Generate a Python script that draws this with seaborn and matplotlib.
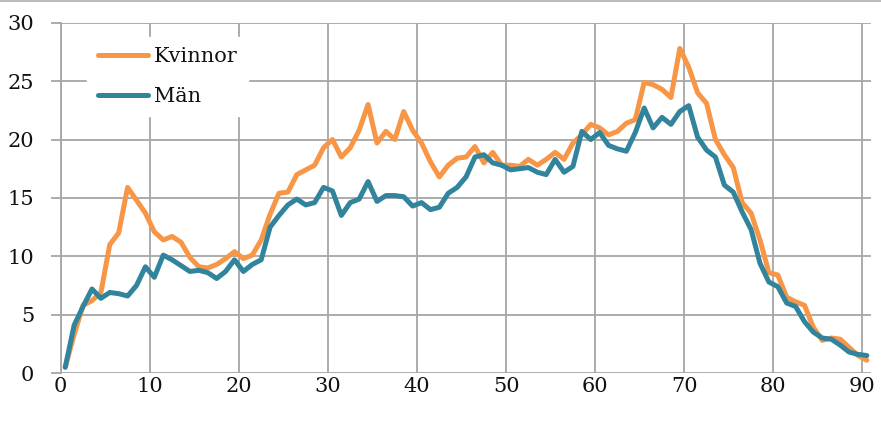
import numpy as np
import pandas as pd
import seaborn as sns
import matplotlib.pyplot as plt

# ages 0-90
ages = np.arange(0, 91)

kvinnor = [0.5, 3.3, 5.8, 6.2, 6.9, 11.0, 12.0, 15.9, 14.8, 13.7,
           12.1, 11.4, 11.7, 11.2, 9.9, 9.1, 9.0, 9.3, 9.8, 10.4,
           9.8, 10.1, 11.4, 13.6, 15.4, 15.5, 17.0, 17.4, 17.8, 19.3,
           20.0, 18.5, 19.3, 20.8, 23.0, 19.7, 20.7, 20.0, 22.4, 20.8,
           19.7, 18.1, 16.8, 17.8, 18.4, 18.5, 19.4, 18.0, 18.9, 17.8,
           17.8, 17.7, 18.3, 17.8, 18.3, 18.9, 18.3, 19.7, 20.4, 21.3,
           21.0, 20.4, 20.7, 21.4, 21.7, 24.9, 24.7, 24.3, 23.6, 27.8,
           26.2, 24.0, 23.1, 20.0, 18.7, 17.6, 14.6, 13.7, 11.4, 8.6,
           8.4, 6.5, 6.1, 5.8, 3.9, 2.8, 3.0, 2.9, 2.2, 1.5,
           1.1]

man = [0.5, 4.1, 5.7, 7.2, 6.4, 6.9, 6.8, 6.6, 7.5, 9.1,
       8.2, 10.1, 9.7, 9.2, 8.7, 8.8, 8.6, 8.1, 8.7, 9.7,
       8.7, 9.3, 9.7, 12.5, 13.5, 14.4, 14.9, 14.4, 14.6, 15.9,
       15.6, 13.5, 14.6, 14.9, 16.4, 14.7, 15.2, 15.2, 15.1, 14.3,
       14.6, 14.0, 14.2, 15.4, 15.9, 16.8, 18.5, 18.7, 18.0, 17.8,
       17.4, 17.5, 17.6, 17.2, 17.0, 18.3, 17.2, 17.7, 20.7, 20.0,
       20.6, 19.5, 19.2, 19.0, 20.6, 22.7, 21.0, 21.9, 21.3, 22.4,
       22.9, 20.2, 19.1, 18.5, 16.1, 15.5, 13.8, 12.3, 9.4, 7.8,
       7.4, 6.0, 5.7, 4.4, 3.5, 3.0, 2.9, 2.4, 1.8, 1.6,
       1.5]

df = pd.DataFrame({
    'x': np.concatenate([ages + 0.5, ages + 0.5]),
    'varde': kvinnor + man,
    'grupp': ['Kvinnor'] * len(ages) + ['Män'] * len(ages),
})

sns.set_style('white')
plt.rcParams['font.family'] = ['DejaVu Serif']
plt.rcParams['text.color'] = '#111111'

fig = plt.figure(figsize=(8.81, 4.22), dpi=100)
ax = fig.add_axes([0.069, 0.116, 0.92, 0.83])

sns.lineplot(data=df, x='x', y='varde', hue='grupp',
             palette={'Kvinnor': '#F79646', 'Män': '#31849B'},
             linewidth=3.6, ax=ax, legend=True, zorder=3)

ax.set_xlim(0, 91)
ax.set_ylim(0, 30)
ax.set_xticks(range(0, 91, 10))
ax.set_yticks(range(0, 31, 5))
ax.grid(True, color='#a6a6a6', linewidth=1.3)
ax.set_axisbelow(True)
for s in ['top', 'right', 'bottom']:
    ax.spines[s].set_visible(False)
ax.spines['left'].set_color('#a6a6a6')
ax.spines['left'].set_linewidth(1.3)
ax.tick_params(axis='y', direction='out', length=7, width=1.3,
               color='#a6a6a6', labelsize=15, pad=12, left=True,
               labelcolor='#111111')
ax.tick_params(axis='x', direction='out', length=0, labelsize=15, pad=3,
               bottom=True, labelcolor='#111111')
ax.set_xlabel('')
ax.set_ylabel('')

leg = ax.legend(loc='upper left', bbox_to_anchor=(0.02, 0.99), frameon=True,
                fontsize=15, handlelength=2.4, labelspacing=1.0,
                borderpad=0.5, handletextpad=0.3)
leg.get_frame().set_facecolor('white')
leg.get_frame().set_edgecolor('white')
leg.get_frame().set_alpha(1)
leg.set_zorder(5)
for line in leg.get_lines():
    line.set_linewidth(3.6)

# thin border line at the top of the picture
fig.add_artist(plt.Line2D([0, 1], [0.998, 0.998], color='#b0b0b0', linewidth=1.2))

fig.savefig('out.png', dpi=100)
